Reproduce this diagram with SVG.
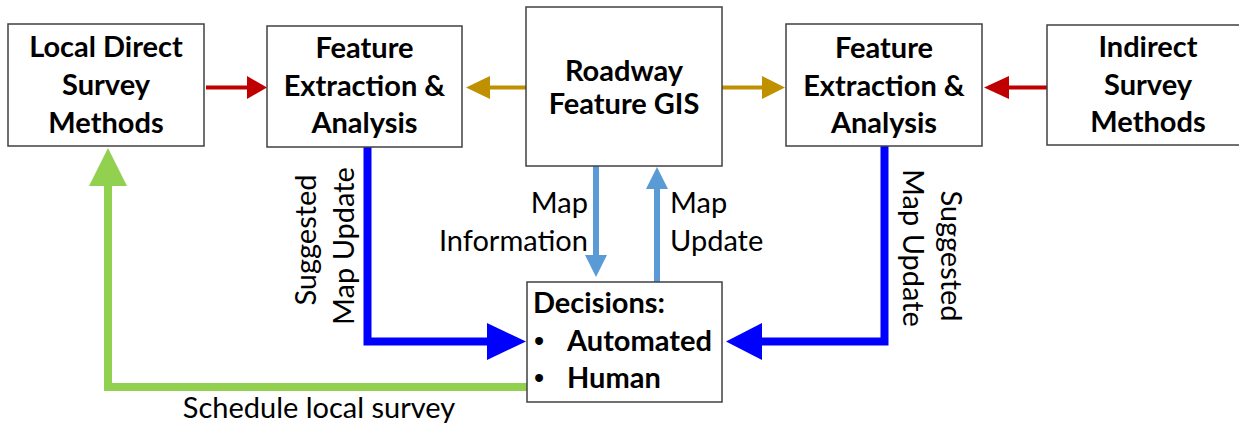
<svg xmlns="http://www.w3.org/2000/svg" width="1239" height="425" viewBox="0 0 1239 425">
<style>
.box{fill:#fff;stroke:#404040;stroke-width:1.5}
.bt{font-family:Lato,"Liberation Sans",sans-serif;font-weight:bold;font-size:29px;fill:#000;text-anchor:middle}
.dt{font-family:Lato,"Liberation Sans",sans-serif;font-weight:bold;font-size:29px;fill:#000}
.bu{font-family:"Liberation Sans",sans-serif;font-size:29px;fill:#000;text-anchor:middle}
.lt{font-family:Lato,"Liberation Sans",sans-serif;font-size:29px;fill:#000}
</style>
<rect width="1239" height="425" fill="#fff"/>
<g id="connectors">
  <line x1="206" y1="87.5" x2="250" y2="87.5" stroke="#C00000" stroke-width="4"/>
  <polygon points="247,76 267,87.5 247,99" fill="#C00000"/>
  <line x1="488" y1="87.5" x2="526" y2="87.5" stroke="#BF9000" stroke-width="4"/>
  <polygon points="490,76 466,87.5 490,99" fill="#BF9000"/>
  <line x1="722" y1="87.5" x2="764" y2="87.5" stroke="#BF9000" stroke-width="4"/>
  <polygon points="762,76 785,87.5 762,99" fill="#BF9000"/>
  <line x1="1007" y1="87.5" x2="1047" y2="87.5" stroke="#C00000" stroke-width="4"/>
  <polygon points="1009,76 984,87.5 1009,99" fill="#C00000"/>
  <line x1="596" y1="166" x2="596" y2="257" stroke="#5B9BD5" stroke-width="6"/>
  <polygon points="585,255 607,255 596,277" fill="#5B9BD5"/>
  <line x1="657" y1="282" x2="657" y2="187" stroke="#5B9BD5" stroke-width="6"/>
  <polygon points="646,189 668,189 657,167" fill="#5B9BD5"/>
  <path d="M367.5,147 V341.5 H489" fill="none" stroke="#0000FF" stroke-width="8"/>
  <polygon points="487,323 487,360 526,341.5" fill="#0000FF"/>
  <path d="M884.5,146 V341.5 H760" fill="none" stroke="#0000FF" stroke-width="8"/>
  <polygon points="762,323 762,360 726,341.5" fill="#0000FF"/>
  <path d="M527,387 H108 V184" fill="none" stroke="#92D050" stroke-width="8"/>
  <polygon points="89,186 127,186 108,148" fill="#92D050"/>
  <text class="lt" text-anchor="end" x="588" y="213">Map</text>
  <text class="lt" text-anchor="end" x="588" y="251">Information</text>
  <text class="lt" x="670" y="213">Map</text>
  <text class="lt" x="670" y="251">Update</text>
  <text class="lt" text-anchor="middle" transform="translate(316,240) rotate(-90)">Suggested</text>
  <text class="lt" text-anchor="middle" transform="translate(354,246) rotate(-90)">Map Update</text>
  <text class="lt" text-anchor="middle" transform="translate(903,248) rotate(90)">Map Update</text>
  <text class="lt" text-anchor="middle" transform="translate(941,256) rotate(90)">Suggested</text>
  <text class="lt" text-anchor="middle" x="319" y="418">Schedule local survey</text>
</g>
<g id="local-direct">
  <rect class="box" x="8" y="24" width="196" height="122"/>
  <text class="bt" x="106" y="57">Local Direct</text>
  <text class="bt" x="106" y="95">Survey</text>
  <text class="bt" x="106" y="133">Methods</text>
</g>
<g id="feature-left">
  <rect class="box" x="267" y="26" width="195" height="121"/>
  <text class="bt" x="364.5" y="58">Feature</text>
  <text class="bt" x="364.5" y="96">Extraction &amp;</text>
  <text class="bt" x="364.5" y="133">Analysis</text>
</g>
<g id="roadway-gis">
  <rect class="box" x="526" y="7" width="196" height="159"/>
  <text class="bt" x="624" y="81">Roadway</text>
  <text class="bt" x="624" y="114">Feature GIS</text>
</g>
<g id="feature-right">
  <rect class="box" x="786" y="24" width="196" height="122"/>
  <text class="bt" x="884" y="58">Feature</text>
  <text class="bt" x="884" y="96">Extraction &amp;</text>
  <text class="bt" x="884" y="133">Analysis</text>
</g>
<g id="indirect">
  <rect class="box" x="1047" y="25" width="200" height="120"/>
  <text class="bt" x="1148" y="57">Indirect</text>
  <text class="bt" x="1148" y="95">Survey</text>
  <text class="bt" x="1148" y="132">Methods</text>
</g>
<g id="decisions">
  <rect class="box" x="527" y="282" width="195" height="120"/>
  <text class="dt" x="533" y="313">Decisions:</text>
  <text class="bu" x="539" y="351">•</text>
  <text class="dt" x="567" y="351">Automated</text>
  <text class="bu" x="539" y="388">•</text>
  <text class="dt" x="567" y="388">Human</text>
</g>
</svg>
